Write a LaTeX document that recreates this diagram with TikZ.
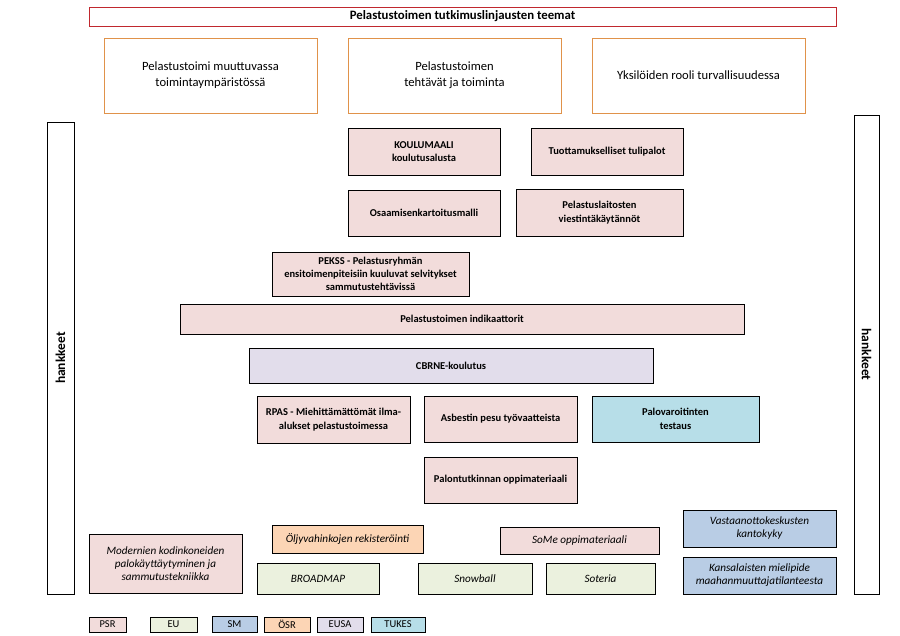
\documentclass[tikz,border=0pt]{standalone}
\usepackage{fontspec}
\setmainfont{Carlito}
\definecolor{psr}{HTML}{F2DCDB}
\definecolor{eu}{HTML}{EBF1DE}
\definecolor{sm}{HTML}{B9CDE5}
\definecolor{osr}{HTML}{FCD5B5}
\definecolor{eusa}{HTML}{E2DDEB}
\definecolor{tukes}{HTML}{B7DEE8}
\definecolor{themeorange}{HTML}{E0924A}
\definecolor{titlered}{HTML}{C0282E}
\newcommand\bx[7]{\node[#2, minimum width={#5pt-#3pt}, minimum height={#6pt-#4pt}] (#1) at ({(#3+#5)/2},{(#4+#6)/2}) {#7};}
\begin{document}
\begin{tikzpicture}[x=1pt,y=-1pt,
  base/.style={draw=black, line width=0.7pt, inner sep=0pt, align=center, font=\fontsize{10.5}{13.5}\selectfont\bfseries},
  titlebox/.style={base, draw=titlered, fill=white, font=\fontsize{12.8}{14}\selectfont\bfseries},
  themebox/.style={base, draw=themeorange, fill=white, font=\fontsize{12.6}{16}\selectfont},
  sidebox/.style={base, fill=white},
  sidetext/.style={font=\fontsize{13.5}{15}\selectfont\bfseries, inner sep=0pt},
  pbox/.style={base, fill=psr},
  vbox/.style={base, fill=eusa},
  tbox/.style={base, fill=tukes},
  ibase/.style={base, font=\fontsize{11.2}{13}\selectfont\itshape},
  ipbox/.style={ibase, fill=psr},
  iobox/.style={ibase, fill=osr},
  iebox/.style={ibase, fill=eu},
  isbox/.style={ibase, fill=sm},
  leg/.style={base, font=\fontsize{10.5}{11}\selectfont}
]
\useasboundingbox (0,0) rectangle (900,635);
\fill[white] (0,0) rectangle (900,635);
\bx{title}{titlebox}{89}{7}{836}{26}{Pelastustoimen tutkimuslinjausten teemat}
\bx{t1}{themebox}{104}{38}{317}{113}{Pelastustoimi muuttuvassa\\toimintaympäristössä}
\bx{t2}{themebox}{348}{38}{561}{113}{Pelastustoimen\\tehtävät ja toiminta}
\bx{t3}{themebox}{592}{38}{805}{113}{Yksilöiden rooli turvallisuudessa}
\bx{hkL}{sidebox}{47}{122}{74}{594}{}
\node[sidetext, rotate=90] (hkLt) at (hkL.center) {hankkeet};
\bx{hkR}{sidebox}{854}{115}{879}{594}{}
\node[sidetext, rotate=-90] (hkRt) at (hkR.center) {hankkeet};
\bx{koul}{pbox}{348}{128}{500}{175}{KOULUMAALI\\koulutusalusta}
\bx{tuot}{pbox}{531}{128}{683}{175}{Tuottamukselliset tulipalot}
\bx{osaa}{pbox}{348}{190}{500}{236}{Osaamisenkartoitusmalli}
\bx{viest}{pbox}{516}{189}{683}{236}{Pelastuslaitosten\\viestintäkäytännöt}
\bx{pekss}{pbox, font=\fontsize{10.5}{13}\selectfont\bfseries}{272}{252}{469}{296}{PEKSS - Pelastusryhmän\\ensitoimenpiteisiin kuuluvat selvitykset\\sammutustehtävissä}
\bx{indik}{pbox}{180}{304}{744}{334}{Pelastustoimen indikaattorit}
\bx{cbrne}{vbox}{249}{348}{653}{383}{CBRNE-koulutus}
\bx{rpas}{pbox}{257}{396}{410}{443}{RPAS - Miehittämättömät ilma-\\alukset pelastustoimessa}
\bx{asb}{pbox}{424}{396}{577}{442}{Asbestin pesu työvaatteista}
\bx{palov}{tbox}{592}{396}{759}{442}{Palovaroitinten\\testaus}
\bx{palont}{pbox}{424}{457}{577}{503}{Palontutkinnan oppimateriaali}
\bx{mod}{ipbox}{89}{534}{242}{593}{Modernien kodinkoneiden\\palokäyttäytyminen ja\\sammutustekniikka}
\bx{olj}{iobox}{272}{525}{423}{553}{Öljyvahinkojen rekisteröinti}
\bx{some}{ipbox}{500}{527}{659}{554}{SoMe oppimateriaali}
\bx{vast}{isbox}{683}{510}{836}{547}{Vastaanottokeskusten\\kantokyky}
\bx{kans}{isbox}{683}{557}{836}{594}{Kansalaisten mielipide\\maahanmuuttajatilanteesta}
\bx{broad}{iebox}{257}{563}{379}{594}{BROADMAP}
\bx{snow}{iebox}{418}{563}{532}{594}{Snowball}
\bx{soter}{iebox}{546}{563}{655}{594}{Soteria}
\bx{lpsr}{leg, fill=psr}{89}{617}{126}{632}{PSR}
\bx{leu}{leg, fill=eu}{150}{617}{197}{632}{EU}
\bx{lsm}{leg, fill=sm}{212}{616}{257}{632}{SM}
\bx{losr}{leg, fill=osr}{264}{617}{310}{632}{ÖSR}
\bx{leusa}{leg, fill=eusa}{317}{617}{363}{632}{EUSA}
\bx{ltukes}{leg, fill=tukes}{371}{617}{425}{632}{TUKES}
\end{tikzpicture}
\end{document}
